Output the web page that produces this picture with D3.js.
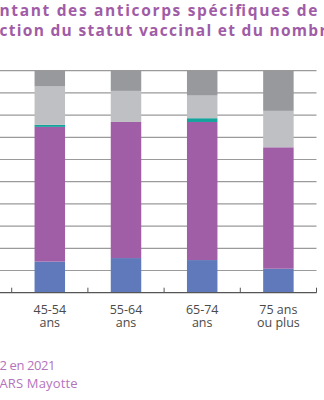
<!DOCTYPE html>
<html>
<head>
<meta charset="utf-8">
<script src="https://cdn.jsdelivr.net/npm/d3@7"></script>
<style>
  html, body { margin: 0; padding: 0; background: #fff; overflow: hidden; }
  svg { display: block; }
</style>
</head>
<body>
<svg id="chart" width="324" height="400"></svg>
<script>
// Data (values in %)
const categories = ["45-54 ans", "55-64 ans", "65-74 ans", "75 ans ou plus"];
const categoryLines = [["45-54", "ans"], ["55-64", "ans"], ["65-74", "ans"], ["75 ans", "ou plus"]];
const seriesNames = ["s1", "s2", "s3", "s4", "s5"];
const s1 = [14.0, 15.6, 14.7, 10.8];   // blue
const s2 = [60.7, 61.3, 62.2, 54.7];   // purple
const s3 = [0.9, 0.0, 1.7, 0.0];       // teal
const s4 = [17.3, 14.0, 10.2, 16.4];   // light gray
const s5 = [7.1, 9.1, 11.2, 18.1];     // dark gray
const yTicks = [0, 10, 20, 30, 40, 50, 60, 70, 80, 90, 100];
const titleLines = ["ntant des anticorps spécifiques de", "ction du statut vaccinal et du nombr"];
const footerLines = ["2 en 2021", "ARS Mayotte"];

const colors = ["#6079bb", "#a05ea6", "#16a39c", "#bfc0c3", "#98999c"];

const svg = d3.select("#chart");
const plot = { left: 11.7, right: 316.5, top: 70.7, bottom: 292.7 };

const x = d3.scaleBand().domain(categories).range([plot.left, plot.right]).paddingInner(0.6).paddingOuter(0.3);
const y = d3.scaleLinear().domain([0, 100]).range([plot.bottom, plot.top]);

// gridlines
svg.append("g").selectAll("line").data(yTicks.filter(d => d > 0)).join("line")
  .attr("x1", 0).attr("x2", plot.right)
  .attr("y1", d => y(d)).attr("y2", d => y(d))
  .attr("stroke", "#9a9a9a").attr("stroke-width", 1.2);

// stacked bars
const table = categories.map((c, i) => ({ cat: c, s1: s1[i], s2: s2[i], s3: s3[i], s4: s4[i], s5: s5[i] }));
const stack = d3.stack().keys(seriesNames)(table);
svg.append("g").selectAll("g").data(stack).join("g")
  .attr("fill", (d, i) => colors[i])
  .selectAll("rect").data(d => d).join("rect")
  .attr("x", d => x(d.data.cat))
  .attr("width", x.bandwidth())
  .attr("y", d => y(d[1]))
  .attr("height", d => Math.max(0, y(d[0]) - y(d[1])));

// baseline
svg.append("line").attr("x1", 0).attr("x2", plot.right)
  .attr("y1", y(0)).attr("y2", y(0)).attr("stroke", "#555").attr("stroke-width", 1.2);

// boundary ticks
const step = x.step();
const boundaries = categories.map(c => x(c) - (step - x.bandwidth()) / 2).concat([plot.right]);
svg.append("g").selectAll("line").data(boundaries).join("line")
  .attr("x1", d => d).attr("x2", d => d)
  .attr("y1", y(0) - 5).attr("y2", y(0))
  .attr("stroke", "#555").attr("stroke-width", 1);

// x labels (two lines each)
const lab = svg.append("g").attr("font-family", "'Open Sans', sans-serif").attr("font-size", 12.5)
  .attr("fill", "#4a4a4a").attr("text-anchor", "middle");
[0, 1].forEach(line => {
  lab.append("g").selectAll("text").data(categories).join("text")
    .attr("x", c => x(c) + x.bandwidth() / 2)
    .attr("y", 313.5 + line * 13.5)
    .text((c, i) => categoryLines[i][line]);
});

// title
const titleWidths = [318, 327];
svg.append("g").attr("font-family", "'Open Sans', sans-serif").attr("font-weight", "bold")
  .attr("font-size", 15.5).attr("fill", "#a05ca6")
  .selectAll("text").data(titleLines).join("text")
  .attr("x", -0.5).attr("y", (d, i) => 15.5 + i * 20)
  .attr("textLength", (d, i) => titleWidths[i]).attr("lengthAdjust", "spacing")
  .text(d => d);

// footer
const footWidths = [56, 78];
svg.append("g").attr("font-family", "'Open Sans', sans-serif")
  .attr("font-size", 13).attr("fill", "#b374bd")
  .selectAll("text").data(footerLines).join("text")
  .attr("x", -0.5).attr("y", (d, i) => 370 + i * 18)
  .attr("textLength", (d, i) => footWidths[i]).attr("lengthAdjust", "spacing")
  .text(d => d);
</script>
</body>
</html>
